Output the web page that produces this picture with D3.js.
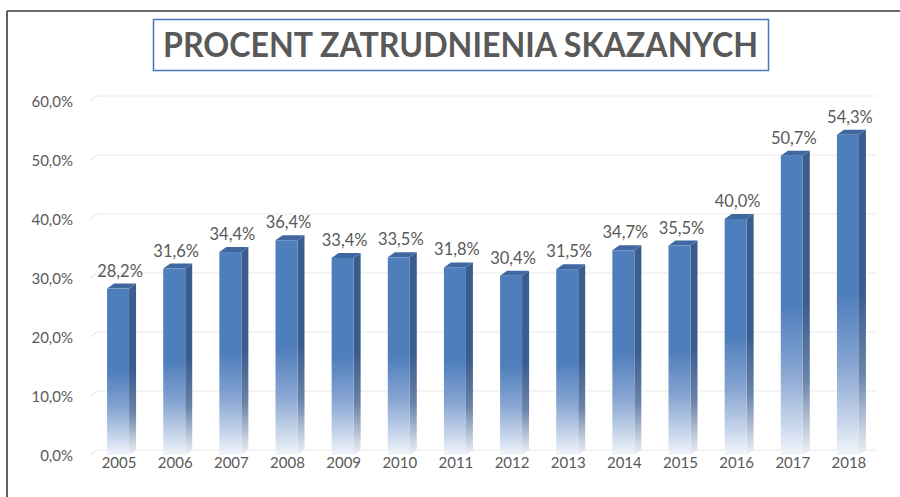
<!DOCTYPE html>
<html><head><meta charset="utf-8">
<script src="https://cdn.jsdelivr.net/npm/d3@7"></script>
<style>
html,body{margin:0;padding:0;background:#fff;}
svg{display:block;}
</style></head>
<body>
<svg id="chart" width="900" height="497"></svg>
<script>
const years = ["2005","2006","2007","2008","2009","2010","2011","2012","2013","2014","2015","2016","2017","2018"];
const values = [28.2,31.6,34.4,36.4,33.4,33.5,31.8,30.4,31.5,34.7,35.5,40.0,50.7,54.3];
const yTicks = [0,10,20,30,40,50,60];
const title = "PROCENT ZATRUDNIENIA SKAZANYCH";

const fmt = v => v.toFixed(1).replace(".", ",") + "%";
const svg = d3.select("#chart");
const font = "Lato, 'Open Sans', sans-serif";

// frame
svg.append("line").attr("x1",7).attr("x2",900).attr("y1",11).attr("y2",11).attr("stroke","#3a3a3a").attr("stroke-width",1.6);
svg.append("line").attr("x1",7).attr("x2",7).attr("y1",11).attr("y2",497).attr("stroke","#3a3a3a").attr("stroke-width",1.6);

// title
svg.append("rect").attr("x",153.5).attr("y",19.5).attr("width",615).attr("height",51)
  .attr("fill","#fff").attr("stroke","#4a76c0").attr("stroke-width",1.5);
svg.append("text").attr("x",163).attr("y",57).text(title)
  .attr("font-family",font).attr("font-weight","bold").attr("font-size",34)
  .attr("fill","#595959").attr("textLength",595).attr("lengthAdjust","spacingAndGlyphs");

const x = d3.scaleBand().domain(years).range([90,876]).padding(0);
const y = d3.scaleLinear().domain([0,60]).range([455,101]);
const depthX = 7, depthY = 5, half = 11;

// gridlines (back wall)
const grid = svg.append("g");
yTicks.forEach(t=>{
  const yy = y(t);
  grid.append("path")
    .attr("d",`M90,${yy} L${90+depthX},${yy-depthY} L876,${yy-depthY}`)
    .attr("fill","none").attr("stroke","#e9e9e9").attr("stroke-width",1.2);
});

// y axis labels
const yAxis = d3.axisLeft(y).tickValues(yTicks).tickFormat(fmt).tickSize(0).tickPadding(0);
const ya = svg.append("g").attr("transform","translate(73,1)").call(yAxis);
ya.select(".domain").remove();
ya.selectAll("text").attr("font-family",font).attr("font-size",15).attr("fill","#595959");

// x axis labels
const xAxis = d3.axisBottom(x).tickSize(0).tickPadding(0);
const xa = svg.append("g").attr("transform","translate(1,457)").call(xAxis);
xa.select(".domain").remove();
xa.selectAll("text").attr("font-family",font).attr("font-size",15).attr("fill","#595959");

// gradients
const defs = svg.append("defs");
const gF = defs.append("linearGradient").attr("id","gFront").attr("x1",0).attr("y1",0).attr("x2",0).attr("y2",1);
[[0,"#4f7ebc"],[0.5,"#4f7ebc"],[0.72,"#87a5d2"],[0.9,"#c9d7ec"],[1,"#f3f6fb"]].forEach(s=>gF.append("stop").attr("offset",s[0]).attr("stop-color",s[1]));
const gS = defs.append("linearGradient").attr("id","gSide").attr("x1",0).attr("y1",0).attr("x2",0).attr("y2",1);
[[0,"#3b5d8e"],[0.5,"#3b5d8e"],[0.75,"#6a83a8"],[0.92,"#c5cfdd"],[1,"#eef1f6"]].forEach(s=>gS.append("stop").attr("offset",s[0]).attr("stop-color",s[1]));

const bars = svg.append("g").selectAll("g").data(values).join("g");
bars.each(function(v,i){
  const g = d3.select(this);
  const c = x(years[i]) + x.bandwidth()/2;
  const x0 = c-half, x1 = c+half;
  const yt = y(v), yb = y(0);
  g.append("path").attr("d",`M${x1},${yt} L${x1+depthX},${yt-depthY} L${x1+depthX},${yb-depthY} L${x1},${yb} Z`)
    .attr("fill","url(#gSide)");
  g.append("path").attr("d",`M${x0},${yt} L${x0+depthX},${yt-depthY} L${x1+depthX},${yt-depthY} L${x1},${yt} Z`)
    .attr("fill","#3e689f");
  g.append("rect").attr("x",x0).attr("y",yt).attr("width",x1-x0).attr("height",yb-yt)
    .attr("fill","url(#gFront)");
  g.append("text").attr("x",c+2).attr("y",yt-12).attr("text-anchor","middle")
    .attr("font-family",font).attr("font-size",16.5).attr("fill","#595959").text(fmt(v));
});
</script>
</body></html>
